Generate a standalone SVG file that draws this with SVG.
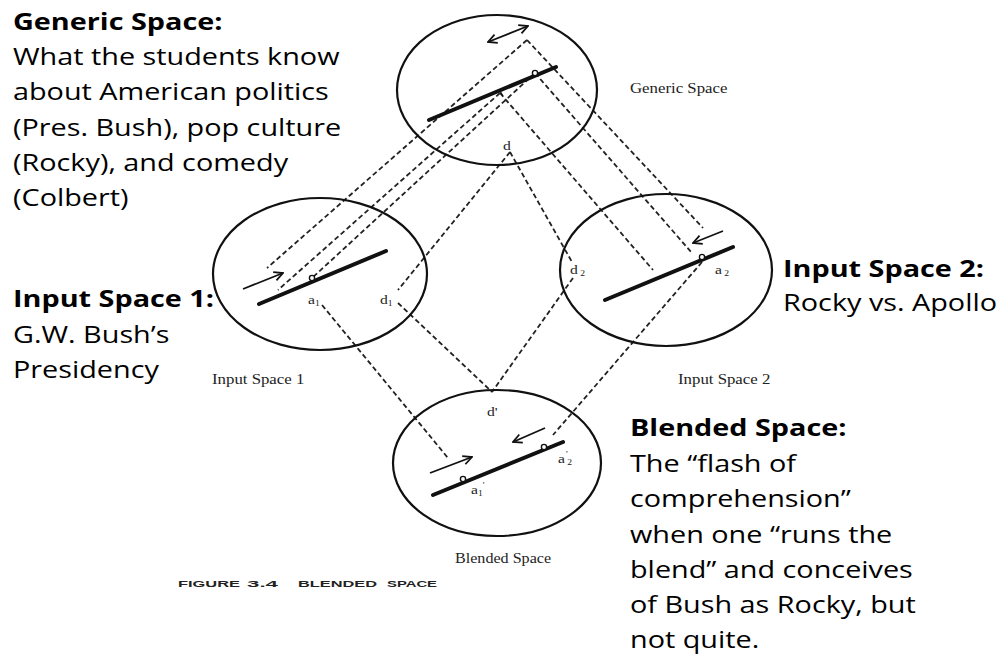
<svg xmlns="http://www.w3.org/2000/svg" width="1008" height="664" viewBox="0 0 1008 664">
<style>
.ring{fill:none;stroke:#111;stroke-width:2.2}
.bar{stroke:#111;stroke-width:4;stroke-linecap:round}
.dash{fill:none;stroke:#222;stroke-width:1.8;stroke-dasharray:5 3}
.arw{fill:none;stroke:#111;stroke-width:1.8}
.pt{fill:#fff;stroke:#111;stroke-width:1.4}
.lab{font-family:"Liberation Serif",serif;font-size:13px;fill:#222}
.cap{font-family:"Liberation Serif",serif;font-size:14px;fill:#222}
.note{font-family:"Open Sans",sans-serif;font-size:24px;fill:#000}
.hd{font-weight:bold}
.fig{font-family:"Liberation Sans",sans-serif;font-size:9.5px;font-weight:bold;fill:#222}
</style>
<defs>
<marker id="ah" viewBox="0 0 10 10" refX="9" refY="5" markerWidth="11" markerHeight="11" markerUnits="userSpaceOnUse" orient="auto-start-reverse">
<path d="M1,1 L9,5 L1,9" fill="none" stroke="#111" stroke-width="1.6"/>
</marker>
</defs>
<rect width="1008" height="664" fill="#fff"/>

<g id="connectors">
<line class="dash" x1="527" y1="40" x2="267" y2="268"/>
<line class="dash" x1="500" y1="93" x2="278" y2="290"/>
<line class="dash" x1="535" y1="73" x2="312" y2="278"/>
<line class="dash" x1="527" y1="40" x2="703" y2="228"/>
<line class="dash" x1="535" y1="73" x2="692" y2="253"/>
<line class="dash" x1="500" y1="93" x2="653" y2="270"/>
<line class="dash" x1="510" y1="152" x2="398" y2="290"/>
<line class="dash" x1="510" y1="152" x2="572" y2="262"/>
<line class="dash" x1="398" y1="303" x2="492" y2="392"/>
<line class="dash" x1="573" y1="278" x2="492" y2="392"/>
<line class="dash" x1="322" y1="305" x2="448" y2="458"/>
<line class="dash" x1="702" y1="262" x2="553" y2="435"/>
</g>

<g id="generic-space">
<ellipse class="ring" cx="497" cy="90" rx="100" ry="75"/>
<line class="bar" x1="429" y1="120" x2="556" y2="67"/>
<line stroke="#111" stroke-width="1.2" x1="500" y1="91" x2="503" y2="96"/>
<circle class="pt" cx="535" cy="73" r="2.6"/>
<line class="arw" x1="488" y1="42" x2="528" y2="26" marker-start="url(#ah)" marker-end="url(#ah)"/>
<text class="lab" transform="translate(503,150) scale(1.2,1)">d</text>
<text class="cap" transform="translate(630,93) scale(1.2,1)">Generic Space</text>
</g>

<g id="input-space-1">
<ellipse class="ring" cx="320" cy="274" rx="107" ry="76"/>
<line class="bar" x1="259" y1="304" x2="386" y2="251"/>
<circle class="pt" cx="312" cy="278" r="2.6"/>
<line class="arw" x1="243" y1="289" x2="283" y2="273" marker-end="url(#ah)"/>
<text class="lab" transform="translate(308,304) scale(1.2,1)">a<tspan font-size="8" dy="2">1</tspan></text>
<text class="lab" transform="translate(380,304) scale(1.2,1)">d<tspan font-size="8" dy="2">1</tspan></text>
<text class="cap" transform="translate(212,384) scale(1.2,1)">Input Space 1</text>
</g>

<g id="input-space-2">
<ellipse class="ring" cx="666" cy="270" rx="106" ry="76"/>
<line class="bar" x1="605" y1="300" x2="733" y2="247"/>
<circle class="pt" cx="702" cy="257" r="2.6"/>
<line class="arw" x1="723" y1="231" x2="693" y2="243" marker-end="url(#ah)"/>
<text class="lab" transform="translate(570,274) scale(1.2,1)">d<tspan font-size="8" dy="2"> 2</tspan></text>
<text class="lab" transform="translate(715,274) scale(1.2,1)">a<tspan font-size="8" dy="2"> 2</tspan></text>
<text class="cap" transform="translate(678,384) scale(1.2,1)">Input Space 2</text>
</g>

<g id="blended-space">
<ellipse class="ring" cx="497" cy="463" rx="104" ry="73"/>
<line class="bar" x1="433" y1="495" x2="563" y2="442"/>
<circle class="pt" cx="463" cy="479" r="2.6"/>
<circle class="pt" cx="544" cy="447" r="2.6"/>
<line class="arw" x1="430" y1="473" x2="472" y2="457" marker-end="url(#ah)"/>
<line class="arw" x1="545" y1="428" x2="513" y2="442" marker-end="url(#ah)"/>
<text class="lab" transform="translate(487,416) scale(1.2,1)">d'</text>
<text class="lab" transform="translate(471,494) scale(1.2,1)">a<tspan font-size="8" dy="2">1</tspan><tspan font-size="8" dy="-8">'</tspan></text>
<text class="lab" transform="translate(558,463) scale(1.2,1)">a<tspan font-size="8" dy="2"> 2</tspan><tspan font-size="8" dx="-5" dy="-8">'</tspan></text>
<text class="cap" transform="translate(455,563) scale(1.15,1)">Blended Space</text>
</g>

<g id="figure-caption">
<text class="fig" x="178" y="587" textLength="62" lengthAdjust="spacingAndGlyphs">FIGURE</text>
<text class="fig" x="247" y="587" textLength="31" lengthAdjust="spacingAndGlyphs">3.4</text>
<text class="fig" x="298" y="587" textLength="79" lengthAdjust="spacingAndGlyphs">BLENDED</text>
<text class="fig" x="387" y="587" textLength="50" lengthAdjust="spacingAndGlyphs">SPACE</text>
</g>

<g id="note-generic" transform="translate(13,0) scale(1.2,1)">
<text class="note hd" x="0" y="30">Generic Space:</text>
<text class="note" x="0" y="65">What the students know</text>
<text class="note" x="0" y="100">about American politics</text>
<text class="note" x="0" y="136">(Pres. Bush), pop culture</text>
<text class="note" x="0" y="171">(Rocky), and comedy</text>
<text class="note" x="0" y="206">(Colbert)</text>
</g>

<g id="note-input1" transform="translate(13,0) scale(1.2,1)">
<text class="note hd" x="0" y="307">Input Space 1:</text>
<text class="note" x="0" y="343">G.W. Bush’s</text>
<text class="note" x="0" y="378">Presidency</text>
</g>

<g id="note-input2" transform="translate(783,0) scale(1.2,1)">
<text class="note hd" x="0" y="277">Input Space 2:</text>
<text class="note" x="0" y="311">Rocky vs. Apollo</text>
</g>

<g id="note-blended" transform="translate(630,0) scale(1.2,1)">
<text class="note hd" x="0" y="436">Blended Space:</text>
<text class="note" x="0" y="472">The “flash of</text>
<text class="note" x="0" y="507">comprehension”</text>
<text class="note" x="0" y="543">when one “runs the</text>
<text class="note" x="0" y="578">blend” and conceives</text>
<text class="note" x="0" y="613">of Bush as Rocky, but</text>
<text class="note" x="0" y="648">not quite.</text>
</g>
</svg>
